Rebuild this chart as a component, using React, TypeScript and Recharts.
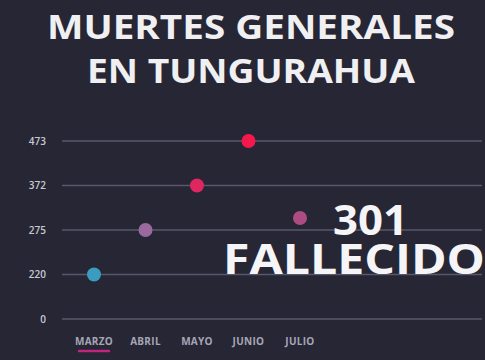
import React from 'react';
import { LineChart, Line, XAxis, YAxis, CartesianGrid } from 'recharts';

const months = ['MARZO', 'ABRIL', 'MAYO', 'JUNIO', 'JULIO'];
const deaths = [220, 275, 372, 473, 301];
const yTickLabels = [0, 220, 275, 372, 473];
const dotColors = ['#3a9dc0', '#9a6a9f', '#e02660', '#f5184c', '#ad4c82'];
const titleLines = ['MUERTES GENERALES', 'EN TUNGURAHUA'];
const highlightValue = '301';
const highlightLabel = 'FALLECIDO';

// map a value onto the evenly spaced tick levels of the axis
const toLevel = (v: number) => {
  for (let i = 1; i < yTickLabels.length; i++) {
    if (v <= yTickLabels[i]) {
      const a = yTickLabels[i - 1];
      const b = yTickLabels[i];
      return i - 1 + (v - a) / (b - a);
    }
  }
  return yTickLabels.length - 1;
};

const data = months.map((m, i) => ({ month: m, deaths: deaths[i], level: toLevel(deaths[i]) }));

const FONT = "'Open Sans', 'DejaVu Sans', sans-serif";
const BG = '#262635';

const renderXTick = (props: any) => {
  const { x, y, payload, index } = props;
  return (
    <g>
      <text x={x} y={y + 26} textAnchor="middle" fill="#a6a6b6" fontSize={10} fontWeight={700} fontFamily={FONT} letterSpacing={0.3}>
        {payload.value}
      </text>
      {index === 0 && (
        <line x1={x - 15} x2={x + 15} y1={y + 32} y2={y + 32} stroke="#c2237e" strokeWidth={2.5} strokeLinecap="round" />
      )}
    </g>
  );
};

const renderDot = (props: any) => {
  const { cx, cy, index } = props;
  return <circle key={`d${index}`} cx={cx} cy={cy} r={7} fill={dotColors[index]} />;
};

export default function App() {
  return (
    <div style={{ position: 'absolute', left: 0, top: 0, width: 485, height: 360, background: BG, overflow: 'hidden' }}>
      <LineChart width={485} height={360} data={data} margin={{ top: 141, right: 3, bottom: 11, left: 0 }}>
        <CartesianGrid vertical={false} stroke="#57586b" strokeWidth={1.5} />
        <XAxis
          dataKey="month"
          axisLine={false}
          tickLine={false}
          tickSize={0}
          tickMargin={0}
          height={30}
          interval={0}
          padding={{ left: 32, right: 182 }}
          tick={renderXTick}
        />
        <YAxis
          type="number"
          domain={[0, 4]}
          ticks={[0, 1, 2, 3, 4]}
          width={62}
          axisLine={false}
          tickLine={false}
          tickSize={0}
          tickMargin={16}
          tickFormatter={(v: number) => String(yTickLabels[v])}
          tick={{ fill: '#c9c9d3', fontSize: 10, fontWeight: 600, fontFamily: FONT }}
        />
        <Line dataKey="level" stroke="none" isAnimationActive={false} dot={renderDot} activeDot={false} />
      </LineChart>
      <svg width={485} height={360} style={{ position: 'absolute', left: 0, top: 0, pointerEvents: 'none' }}>
        <text x={47} y={39} textLength={408} lengthAdjust="spacingAndGlyphs" fill="#f0f0f2" fontSize={34} fontWeight={700} fontFamily={FONT}>
          {titleLines[0]}
        </text>
        <text x={87} y={83} textLength={328} lengthAdjust="spacingAndGlyphs" fill="#f0f0f2" fontSize={34} fontWeight={700} fontFamily={FONT}>
          {titleLines[1]}
        </text>
        <text x={333} y={235} textLength={75} lengthAdjust="spacingAndGlyphs" fill="#f5f5f7" fontSize={42} fontWeight={700} fontFamily={FONT}>
          {highlightValue}
        </text>
        <text x={223} y={274} textLength={262} lengthAdjust="spacingAndGlyphs" fill="#f5f5f7" fontSize={42} fontWeight={700} fontFamily={FONT}>
          {highlightLabel}
        </text>
      </svg>
    </div>
  );
}
